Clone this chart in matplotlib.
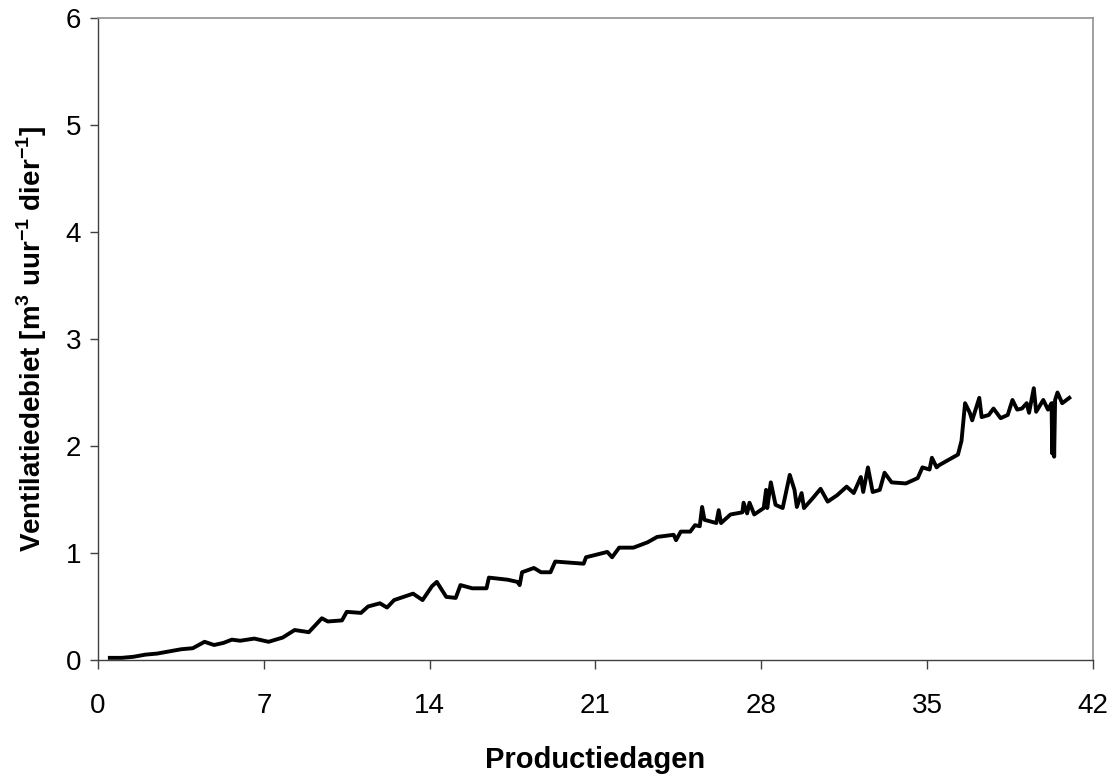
import matplotlib
matplotlib.use("Agg")
import matplotlib.pyplot as plt

plt.rcParams['font.family'] = ['Liberation Sans', 'DejaVu Sans']
plt.rcParams['mathtext.fontset'] = 'custom'
plt.rcParams['mathtext.rm'] = 'Liberation Sans'
plt.rcParams['mathtext.bf'] = 'Liberation Sans:bold'

# productiedagen vs ventilatiedebiet
dagen = [0.5, 1.0, 1.5, 2.0, 2.5, 3.0, 3.5, 4.0, 4.5, 4.9, 5.3, 5.65, 6.0, 6.6,
         7.2, 7.8, 8.3, 8.9, 9.45, 9.7, 10.3, 10.5, 11.1, 11.4, 11.9, 12.2,
         12.5, 12.9, 13.3, 13.7, 14.1, 14.3, 14.7, 15.1, 15.3, 15.8, 16.4,
         16.5, 17.3, 17.7, 17.8, 17.9, 18.4, 18.7, 19.1, 19.3, 20.5, 20.6,
         21.5, 21.7, 22.0, 22.6, 23.2, 23.6, 24.3, 24.4, 24.6, 25.0, 25.2,
         25.4, 25.5, 25.6, 26.1, 26.2, 26.3, 26.7, 27.2, 27.25, 27.4, 27.5,
         27.7, 28.1, 28.2, 28.25, 28.4, 28.6, 28.9, 29.2, 29.4, 29.5, 29.7,
         29.8, 30.2, 30.5, 30.8, 31.2, 31.6, 31.9, 32.2, 32.3, 32.5, 32.7,
         33.0, 33.2, 33.5, 34.1, 34.6, 34.8, 35.1, 35.2, 35.4, 35.5, 35.9,
         36.3, 36.45, 36.6, 36.8, 36.9, 37.2, 37.3, 37.6, 37.8, 38.1, 38.4,
         38.6, 38.8, 39.0, 39.2, 39.3, 39.5, 39.6, 39.9, 40.1, 40.25, 40.28,
         40.33, 40.36, 40.4, 40.5, 40.7, 41.0]
debiet = [0.02, 0.02, 0.03, 0.05, 0.06, 0.08, 0.10, 0.11, 0.17, 0.14, 0.16,
          0.19, 0.18, 0.20, 0.17, 0.21, 0.28, 0.26, 0.39, 0.36, 0.37, 0.45,
          0.44, 0.50, 0.53, 0.49, 0.56, 0.59, 0.62, 0.56, 0.69, 0.73, 0.59,
          0.58, 0.70, 0.67, 0.67, 0.77, 0.75, 0.73, 0.70, 0.82, 0.86, 0.82,
          0.82, 0.92, 0.90, 0.96, 1.01, 0.96, 1.05, 1.05, 1.10, 1.15, 1.17,
          1.12, 1.20, 1.20, 1.26, 1.25, 1.43, 1.31, 1.28, 1.40, 1.28, 1.36,
          1.38, 1.47, 1.37, 1.47, 1.36, 1.42, 1.59, 1.42, 1.66, 1.45, 1.42,
          1.73, 1.59, 1.43, 1.56, 1.42, 1.52, 1.60, 1.48, 1.54, 1.62, 1.56,
          1.71, 1.57, 1.80, 1.57, 1.59, 1.75, 1.66, 1.65, 1.70, 1.80, 1.78,
          1.89, 1.80, 1.82, 1.87, 1.92, 2.05, 2.40, 2.31, 2.24, 2.45, 2.27,
          2.29, 2.35, 2.26, 2.29, 2.43, 2.34, 2.35, 2.40, 2.31, 2.54, 2.32,
          2.43, 2.34, 2.40, 1.93, 2.40, 1.90, 2.43, 2.50, 2.40, 2.45]

xticks = [0, 7, 14, 21, 28, 35, 42]
yticks = [0, 1, 2, 3, 4, 5, 6]

fig = plt.figure(figsize=(11.16, 7.76), dpi=100)
ax = fig.add_axes([0.0878, 0.1495, 0.8916, 0.8273])
ax.plot(dagen, debiet, color='black', lw=2.8, solid_joinstyle='round')

ax.set_xlim(0, 42)
ax.set_ylim(0, 6)
ax.set_xticks(xticks)
ax.set_yticks(yticks)
ax.tick_params(axis='x', direction='out', length=6.5, width=1, pad=17,
               labelsize=20, color='#404040')
ax.tick_params(axis='y', direction='out', length=6, width=1, pad=6,
               labelsize=20, color='#404040')
for s in ['left', 'bottom']:
    ax.spines[s].set_color('#404040')
    ax.spines[s].set_linewidth(1)
for s in ['top', 'right']:
    ax.spines[s].set_color('#909090')
    ax.spines[s].set_linewidth(1.2)

ax.set_xlabel('Productiedagen', fontsize=21, fontweight='bold', labelpad=20)
ax.set_ylabel(r'Ventilatiedebiet [m$^{\mathbf{3}}$ uur$^{\mathbf{-1}}$ dier$^{\mathbf{-1}}$]',
              fontsize=20, fontweight='bold', labelpad=12)

fig.savefig('out.png', dpi=100)
